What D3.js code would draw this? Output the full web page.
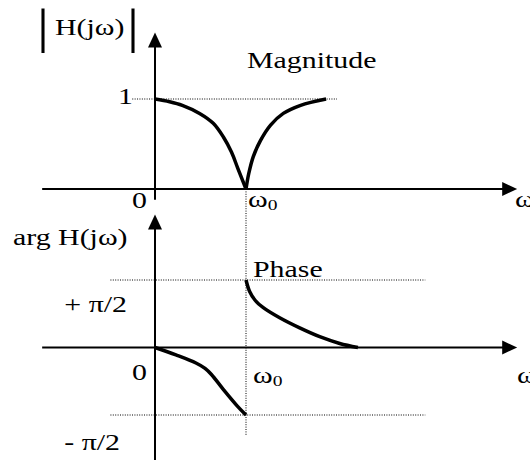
<!DOCTYPE html>
<html>
<head>
<meta charset="utf-8">
<script src="https://cdn.jsdelivr.net/npm/d3@7"></script>
<style>
  body { margin: 0; background: #fff; }
  text { font-family: "Liberation Serif", "Times New Roman", serif; fill: #000; }
</style>
</head>
<body>
<div id="chart"></div>
<script>
// frequency in units of w0, magnitude |H(jw)|
const magLeftW = [0, 0.16, 0.30, 0.49, 0.64, 0.75, 0.84, 0.91, 1.0];
const magLeft = [1.0, 0.97, 0.93, 0.84, 0.73, 0.58, 0.41, 0.23, 0];
const magRightW = [1.0, 1.03, 1.08, 1.16, 1.27, 1.41, 1.60, 1.88];
const magRight = [0, 0.17, 0.36, 0.54, 0.71, 0.84, 0.93, 1.0];

// phase arg H(jw) in units of pi/2
const phaseLeftW = [0, 0.23, 0.45, 0.55, 0.62, 0.75, 0.90, 1.0];
const phaseLeft = [0, -0.11, -0.23, -0.31, -0.40, -0.62, -0.86, -1.0];
const phaseRightW = [1.0, 1.04, 1.10, 1.19, 1.37, 1.59, 1.81, 2.03, 2.23];
const phaseRight = [1.0, 0.83, 0.70, 0.59, 0.44, 0.29, 0.16, 0.06, 0];

// guide levels
const magTicks = ["0", "1"];
const phaseTicks = ["- \u03c0/2", "0", "+ \u03c0/2"];

const width = 530;
const height = 460;
const fs = 23;      // font size
const sx = 1.3;     // the original lettering is stretched sideways

const svg = d3.select("#chart")
  .append("svg")
  .attr("width", width)
  .attr("height", height)
  .style("background", "#ffffff");

const x = d3.scaleLinear().domain([0, 1]).range([155, 246]);
const yMag = d3.scaleLinear().domain([0, 1]).range([189, 99]);
const yPh = d3.scaleLinear().domain([-1, 1]).range([415, 280]);

function label(str, px, py, size, anchor) {
  const t = svg.append("text")
    .attr("transform", `translate(${px},${py}) scale(${sx},1)`)
    .attr("font-size", size || fs)
    .attr("text-anchor", anchor || "start")
    .text(str);
  return t;
}

function omega0(px, py) {
  const t = svg.append("text")
    .attr("transform", `translate(${px},${py}) scale(${sx},1)`)
    .attr("font-size", fs);
  t.append("tspan").text("\u03c9");
  t.append("tspan").attr("font-size", 15).attr("dy", 3).text("0");
}

function arrowRight(y0, xEnd) {
  svg.append("path")
    .attr("d", `M${xEnd - 15},${y0 - 7}L${xEnd},${y0}L${xEnd - 15},${y0 + 7}Z`)
    .attr("fill", "#000");
}

function arrowUp(x0, yEnd) {
  svg.append("path")
    .attr("d", `M${x0 - 7},${yEnd + 15}L${x0},${yEnd}L${x0 + 7},${yEnd + 15}Z`)
    .attr("fill", "#000");
}

function axisLine(x1, y1, x2, y2) {
  svg.append("line")
    .attr("x1", x1).attr("y1", y1).attr("x2", x2).attr("y2", y2)
    .attr("stroke", "#000").attr("stroke-width", 2);
}

function dotted(x1, y1, x2, y2) {
  svg.append("line")
    .attr("x1", x1).attr("y1", y1).attr("x2", x2).attr("y2", y2)
    .attr("stroke", "#000").attr("stroke-width", 1)
    .attr("stroke-dasharray", "1,1.4");
}

// ---- guides (dotted) ----
dotted(x(-0.25), yMag(1), x(2.0), yMag(1));
dotted(x(-0.49), yPh(1), x(2.97), yPh(1));
dotted(x(-0.49), yPh(-1), x(2.97), yPh(-1));
dotted(x(1), yMag(0), x(1), yPh(-1.3));

// ---- axes ----
// magnitude
axisLine(x(-1.24), yMag(0), x(3.85), yMag(0));
arrowRight(yMag(0), x(3.98));
axisLine(x(0), yMag(-0.12), x(0), yMag(1.6));
arrowUp(x(0), yMag(1.74));
// phase
axisLine(x(-1.24), yPh(0), x(3.85), yPh(0));
arrowRight(yPh(0), x(3.98));
axisLine(x(0), height, x(0), yPh(1.8));
arrowUp(x(0), yPh(1.97));

// ---- curves ----
const magLine = d3.line()
  .x(d => x(d[0]))
  .y(d => yMag(d[1]))
  .curve(d3.curveCatmullRom.alpha(0.5));
const phLine = d3.line()
  .x(d => x(d[0]))
  .y(d => yPh(d[1]))
  .curve(d3.curveCatmullRom.alpha(0.5));

const curves = [
  [magLine, d3.zip(magLeftW, magLeft)],
  [magLine, d3.zip(magRightW, magRight)],
  [phLine, d3.zip(phaseLeftW, phaseLeft)],
  [phLine, d3.zip(phaseRightW, phaseRight)]
];
curves.forEach(([gen, pts]) => {
  svg.append("path")
    .attr("d", gen(pts))
    .attr("fill", "none")
    .attr("stroke", "#000")
    .attr("stroke-width", 3.5)
    .attr("stroke-linecap", "butt");
});

// ---- labels ----
label("|", 43, 43, 48, "middle");
label("H(j\u03c9)", 55, 35);
label("|", 133, 43, 48, "middle");
label("Magnitude", 247, 68);
label(magTicks[1], 133, 104, fs, "end");
label(magTicks[0], 147, 208, fs, "end");
omega0(248, 207);
label("\u03c9", 515, 207);

label("arg H(j\u03c9)", 13, 245);
label("Phase", 253, 277);
label(phaseTicks[2], 127, 312, fs, "end");
label(phaseTicks[1], 147, 380, fs, "end");
label(phaseTicks[0], 120, 450, fs, "end");
omega0(253, 383);
label("\u03c9", 517, 383);
</script>
</body>
</html>
